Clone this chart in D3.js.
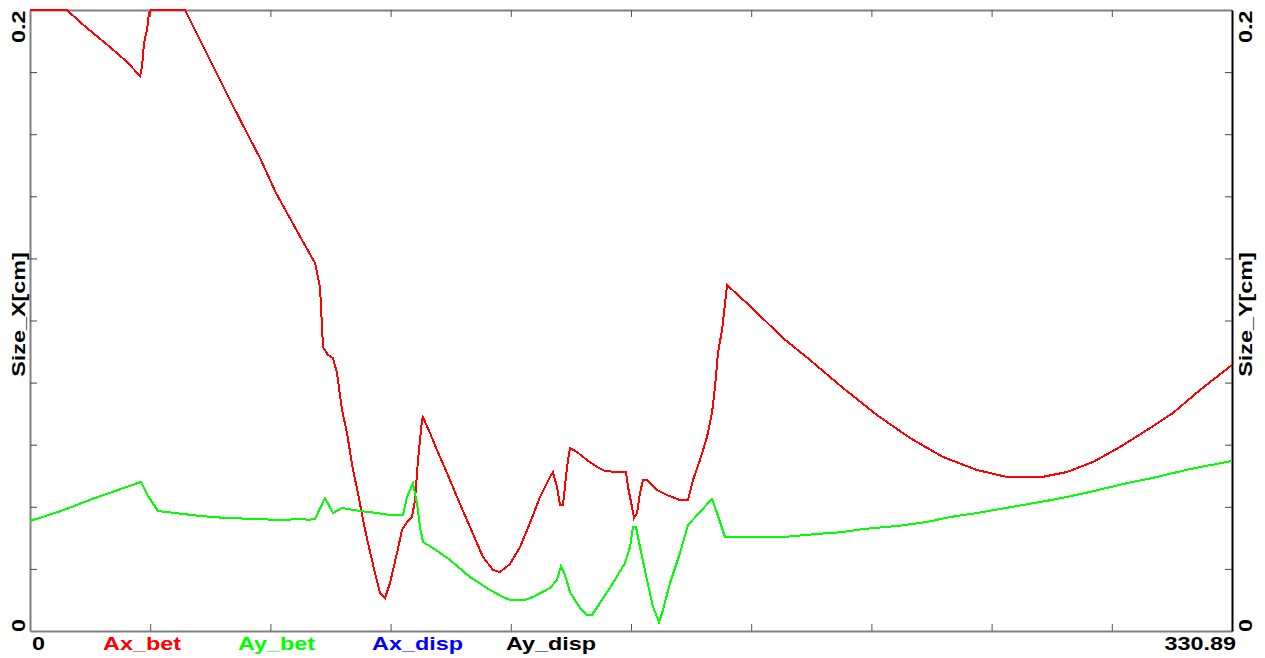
<!DOCTYPE html>
<html>
<head>
<meta charset="utf-8">
<script src="https://cdn.jsdelivr.net/npm/d3@7"></script>
<style>
  html, body { margin: 0; padding: 0; background: #fff; }
  svg { display: block; }
  text { font-family: "Liberation Sans", Arial, sans-serif; font-weight: bold; font-size: 18px; }
</style>
</head>
<body>
<svg id="chart" width="1265" height="658"></svg>
<script>
// Position along the track (x) and measured sizes in cm
const xMax = 330.89;
const yMax = 0.2;
const xTicks = d3.range(0, 11).map(i => xMax * i / 10);
const yTicks = d3.range(0, 11).map(i => yMax * i / 10);
const xEndLabels = ["0", "330.89"];
const yEndLabels = ["0", "0.2"];
const leftTitle = "Size_X[cm]";
const rightTitle = "Size_Y[cm]";
const legendNames = ["Ax_bet", "Ay_bet", "Ax_disp", "Ay_disp"];
const legendColors = ["#ff0000", "#00ff00", "#0000ff", "#000000"];

// Ax_bet
const axBetX = [0, 10.19, 13.76, 17.34, 22.02, 26.70, 30.28, 30.83, 31.38, 32.21, 32.76, 33.31, 42.67,
  50.38, 55.33, 60.01, 63.59, 67.72, 74.88, 78.46, 79.83, 80.66, 82.03, 83.41, 84.51, 85.89, 87.26,
  88.92, 90.29, 91.67, 93.05, 94.97, 96.35, 97.73, 99.10, 101.03, 102.41, 103.78, 105.16, 105.98,
  106.81, 107.91, 108.19, 110.11, 112.04, 114.79, 117.55, 121.12, 124.70, 127.46, 129.38, 132.14,
  134.89, 137.64, 140.39, 143.15, 143.97, 145.07, 145.90, 146.73, 147.83, 148.65, 150.58, 153.33,
  156.09, 158.29, 161.59, 164.07, 164.62, 165.72, 166.27, 167.10, 167.92, 168.75, 169.85, 172.60,
  175.35, 178.93, 181.14, 182.51, 184.44, 186.37, 187.74, 188.57, 189.39, 190.50, 191.05, 191.87,
  198.20, 207.29, 214.72, 223.81, 233.16, 242.25, 251.33, 260.69, 268.95, 278.59, 285.47, 292.63,
  300.06, 307.49, 314.65, 322.08, 330.89];
const axBetY = [0.2, 0.2, 0.19614, 0.19259, 0.18808, 0.18325, 0.17874, 0.18164, 0.18937, 0.19356, 0.19903, 0.2, 0.2,
  0.18196, 0.17037, 0.15974, 0.15169, 0.14106, 0.12593, 0.11852, 0.11079, 0.09147, 0.08889, 0.08792, 0.08309, 0.07118, 0.06377,
  0.05185, 0.04444, 0.03575, 0.02834, 0.01868, 0.01224, 0.01063, 0.01546, 0.02512, 0.03253, 0.03510, 0.03671, 0.04219,
  0.05507, 0.06795, 0.06892, 0.06377, 0.05829, 0.05089, 0.04316, 0.03349, 0.02383, 0.01965, 0.01900, 0.02158,
  0.02705, 0.03478, 0.04316, 0.04960, 0.05121, 0.04638, 0.04058, 0.04058, 0.05282, 0.05894, 0.05765, 0.05507,
  0.05282, 0.05153, 0.05121, 0.05121, 0.04638, 0.03994, 0.03639, 0.03800, 0.04444, 0.04863, 0.04863, 0.04541,
  0.04380, 0.04219, 0.04219, 0.04863, 0.05507, 0.06248, 0.07021, 0.07858, 0.08953, 0.09694, 0.10242, 0.11143,
  0.10467, 0.09436, 0.08728, 0.07826, 0.06956, 0.06216, 0.05604, 0.05185, 0.04960, 0.04960, 0.05121, 0.05443,
  0.05926, 0.06473, 0.07021, 0.07762, 0.08567];

// Ay_bet
const ayBetX = [0, 8.53, 17.89, 29.73, 30.56, 32.48, 35.24, 39.92, 46.80, 53.96, 62.76, 68.27, 75.70,
  76.25, 78.46, 81.21, 83.41, 85.89, 90.84, 95.52, 99.10, 102.68, 103.78, 105.43, 106.53, 107.36,
  108.19, 110.94, 115.62, 121.12, 126.63, 130.21, 132.14, 136.26, 138.47, 143.15, 145.07, 146.18,
  147.28, 148.65, 151.41, 153.33, 154.71, 156.91, 160.49, 163.79, 165.17, 166.00, 166.82, 167.92,
  169.85, 171.50, 173.15, 174.25, 176.18, 178.93, 181.14, 184.44, 187.74, 189.12, 191.32, 207.29,
  216.65, 223.81, 229.31, 238.67, 246.93, 253.26, 260.69, 267.02, 282.72, 291.80, 300.88, 310.24,
  319.33, 330.89];
const ayBetY = [0.03543, 0.03865, 0.04283, 0.04766, 0.04799, 0.04348, 0.03865, 0.03800, 0.03704, 0.03639, 0.03607, 0.03575, 0.03607,
  0.03575, 0.03607, 0.04283, 0.03800, 0.03961, 0.03865, 0.03800, 0.03736, 0.03736, 0.04316, 0.04766, 0.04122, 0.03349,
  0.02866, 0.02673, 0.02287, 0.01739, 0.01320, 0.01095, 0.00998, 0.00998, 0.01095, 0.01385, 0.01643, 0.02093,
  0.01804, 0.01256, 0.00741, 0.00515, 0.00515, 0.00902, 0.01546, 0.02190, 0.02705, 0.03349, 0.03349, 0.02705,
  0.01643, 0.00773, 0.00290, 0.00676, 0.01546, 0.02512, 0.03414, 0.03833, 0.04251, 0.03800, 0.03027, 0.03027,
  0.03124, 0.03188, 0.03285, 0.03382, 0.03510, 0.03671, 0.03800, 0.03929, 0.04251, 0.04477, 0.04734, 0.04960,
  0.05217, 0.05475];

const svg = d3.select("#chart");
const plot = { left: 30, right: 1232, top: 10, bottom: 631 };

const x = d3.scaleLinear().domain([0, xMax]).range([plot.left, plot.right]);
const y = d3.scaleLinear().domain([0, yMax]).range([plot.bottom, plot.top]);

svg.append("defs").append("clipPath").attr("id", "plot-clip")
  .append("rect")
  .attr("x", plot.left).attr("y", plot.top - 1)
  .attr("width", plot.right - plot.left).attr("height", plot.bottom - plot.top + 1);

// Inward-pointing ticks on all four sides
function styleAxis(g, lineColor, tickColor) {
  g.select(".domain").attr("stroke", lineColor).attr("stroke-width", 2);
  g.selectAll(".tick line").attr("stroke", tickColor).attr("stroke-width", 1);
  g.selectAll(".tick text").remove();
}

const innerTicks = (arr) => arr.slice(1, -1);

svg.append("g").attr("transform", `translate(0,${plot.bottom})`)
  .call(d3.axisTop(x).tickValues(innerTicks(xTicks)).tickSize(7).tickSizeOuter(0).tickFormat(""))
  .call(g => styleAxis(g, "#808080", "#555"));

svg.append("g").attr("transform", `translate(0,${plot.top})`)
  .call(d3.axisBottom(x).tickValues(innerTicks(xTicks)).tickSize(7).tickSizeOuter(0).tickFormat(""))
  .call(g => styleAxis(g, "#808080", "#555"));

svg.append("g").attr("transform", `translate(${plot.left},0)`)
  .call(d3.axisRight(y).tickValues(innerTicks(yTicks)).tickSize(7).tickSizeOuter(0).tickFormat(""))
  .call(g => styleAxis(g, "#808080", "#444"));

svg.append("g").attr("transform", `translate(${plot.right},0)`)
  .call(d3.axisLeft(y).tickValues(innerTicks(yTicks)).tickSize(7).tickSizeOuter(0).tickFormat(""))
  .call(g => styleAxis(g, "#000", "#444"));

// Series lines, drawn aliased like a raster plot
const line = d3.line().x(d => x(d[0])).y(d => y(d[1]));
const series = [
  { xs: axBetX, ys: axBetY, color: legendColors[0] },
  { xs: ayBetX, ys: ayBetY, color: legendColors[1] }
];
const lines = svg.append("g").attr("clip-path", "url(#plot-clip)");
series.forEach(s => {
  lines.append("path")
    .datum(s.xs.map((v, i) => [v, s.ys[i]]))
    .attr("fill", "none")
    .attr("stroke", s.color)
    .attr("stroke-width", 2)
    .attr("stroke-linejoin", "miter")
    .attr("shape-rendering", "crispEdges")
    .attr("d", line);
});

// Text helpers: wide bold lettering
const stretch = 1.3;
function hText(str, px, py, color, anchor) {
  svg.append("text")
    .attr("transform", `translate(${px},${py}) scale(${stretch},1)`)
    .attr("text-anchor", anchor || "start")
    .attr("fill", color || "#000")
    .text(str);
}
function vText(str, px, py, anchor) {
  svg.append("text")
    .attr("transform", `translate(${px},${py}) rotate(-90) scale(${stretch},1)`)
    .attr("text-anchor", anchor || "start")
    .attr("fill", "#000")
    .text(str);
}

// Bottom row: range ends and series names
hText(xEndLabels[0], x(0) + 2, 650);
hText(xEndLabels[1], x(xMax) + 4, 650, "#000", "end");
const legendStarts = [103, 238, 372, 506];
legendNames.forEach((n, i) => hText(n, legendStarts[i], 650, legendColors[i]));

// Left and right vertical labels
vText(yEndLabels[1], 25, y(yMax) + 33);
vText(yEndLabels[0], 25, y(0) + 1);
vText(leftTitle, 25, (plot.top + plot.bottom) / 2 - 6, "middle");
vText(yEndLabels[1], 1252, y(yMax) + 33);
vText(yEndLabels[0], 1252, y(0) + 1);
vText(rightTitle, 1252, (plot.top + plot.bottom) / 2 - 6, "middle");
</script>
</body>
</html>
